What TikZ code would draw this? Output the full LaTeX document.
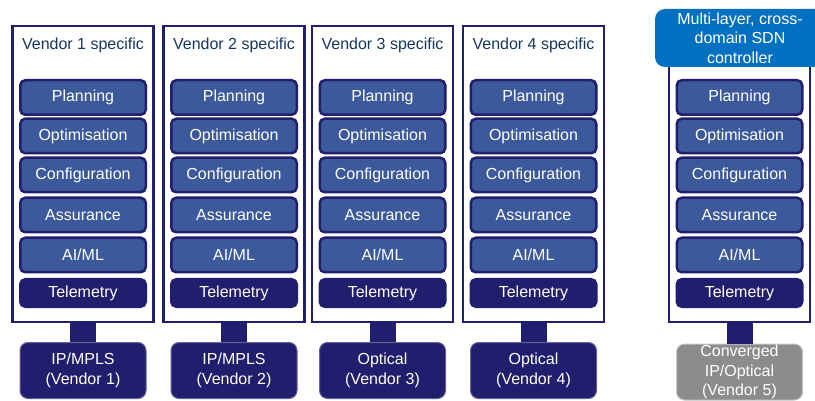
\documentclass[tikz,border=0pt]{standalone}
\usepackage{fontspec}
\setmainfont{Liberation Sans}
\definecolor{nvy}{RGB}{33,30,110}
\definecolor{midblue}{RGB}{60,89,155}
\definecolor{titleblue}{RGB}{23,55,94}
\definecolor{sdnblue}{RGB}{0,112,192}
\definecolor{devgrey}{RGB}{140,140,140}
\tikzset{
  x=1pt,y=-1pt,
  txt/.style={font=\fontsize{16pt}{19.5pt}\selectfont},
  vendorbox/.style={draw=nvy,line width=2.5pt,fill=white,minimum width=141pt,minimum height=296pt,inner sep=0pt},
  vendortitle/.style={txt,text=titleblue},
  funcbox/.style={txt,draw=nvy,line width=2.5pt,fill=midblue,rounded corners=5pt,minimum width=125.5pt,minimum height=34.5pt,inner sep=0pt,text=white},
  telebox/.style={funcbox,fill=nvy,minimum height=27.5pt},
  devbox/.style={txt,draw=nvy!70,line width=1pt,fill=nvy,rounded corners=8pt,minimum width=126pt,minimum height=56pt,inner sep=0pt,text=white,align=center},
  convbox/.style={devbox,draw=devgrey!50,fill=devgrey},
  ctrlbox/.style={txt,fill=sdnblue,rounded corners=10pt,minimum width=170pt,minimum height=58pt,inner sep=0pt,text=white,align=center},
  link/.style={draw=nvy,line width=26pt}
}
\begin{document}
\begin{tikzpicture}
\clip (0,0) rectangle (815,401);
\node[vendorbox] (box1) at (83,174) {};
\node[vendorbox] (box2) at (234,174) {};
\node[vendorbox] (box3) at (382.5,174) {};
\node[vendorbox] (box4) at (533.5,174) {};
\node[vendorbox] (box5) at (739.5,174) {};
\node[vendortitle] (title1) at (83,45) {Vendor 1 specific};
\node[vendortitle] (title2) at (234,45) {Vendor 2 specific};
\node[vendortitle] (title3) at (382.5,45) {Vendor 3 specific};
\node[vendortitle] (title4) at (533.5,45) {Vendor 4 specific};
\node[funcbox] (plan1) at (83,97.5) {Planning};
\node[funcbox] (opt1) at (83,136) {Optimisation};
\node[funcbox] (conf1) at (83,175) {Configuration};
\node[funcbox] (assu1) at (83,215) {Assurance};
\node[funcbox] (aiml1) at (83,255) {AI/ML};
\node[telebox] (tele1) at (83,293) {Telemetry};
\node[funcbox] (plan2) at (234,97.5) {Planning};
\node[funcbox] (opt2) at (234,136) {Optimisation};
\node[funcbox] (conf2) at (234,175) {Configuration};
\node[funcbox] (assu2) at (234,215) {Assurance};
\node[funcbox] (aiml2) at (234,255) {AI/ML};
\node[telebox] (tele2) at (234,293) {Telemetry};
\node[funcbox] (plan3) at (382.5,97.5) {Planning};
\node[funcbox] (opt3) at (382.5,136) {Optimisation};
\node[funcbox] (conf3) at (382.5,175) {Configuration};
\node[funcbox] (assu3) at (382.5,215) {Assurance};
\node[funcbox] (aiml3) at (382.5,255) {AI/ML};
\node[telebox] (tele3) at (382.5,293) {Telemetry};
\node[funcbox] (plan4) at (533.5,97.5) {Planning};
\node[funcbox] (opt4) at (533.5,136) {Optimisation};
\node[funcbox] (conf4) at (533.5,175) {Configuration};
\node[funcbox] (assu4) at (533.5,215) {Assurance};
\node[funcbox] (aiml4) at (533.5,255) {AI/ML};
\node[telebox] (tele4) at (533.5,293) {Telemetry};
\node[funcbox] (plan5) at (739.5,97.5) {Planning};
\node[funcbox] (opt5) at (739.5,136) {Optimisation};
\node[funcbox] (conf5) at (739.5,175) {Configuration};
\node[funcbox] (assu5) at (739.5,215) {Assurance};
\node[funcbox] (aiml5) at (739.5,255) {AI/ML};
\node[telebox] (tele5) at (739.5,293) {Telemetry};
\node[ctrlbox] (ctrl) at (740,38) {Multi-layer, cross-\\domain SDN\\controller};
\node[devbox] (dev1) at (83,370.5) {IP/MPLS\\(Vendor 1)};
\node[devbox] (dev2) at (234,370.5) {IP/MPLS\\(Vendor 2)};
\node[devbox] (dev3) at (382.5,370.5) {Optical\\(Vendor 3)};
\node[devbox] (dev4) at (533.5,370.5) {Optical\\(Vendor 4)};
\node[convbox] (dev5) at (739.5,372) {Converged\\IP/Optical\\(Vendor 5)};
\draw[link] (box1.south) -- (dev1.north);
\draw[link] (box2.south) -- (dev2.north);
\draw[link] (box3.south) -- (dev3.north);
\draw[link] (box4.south) -- (dev4.north);
\draw[link] (box5.south) -- (dev5.north);
\end{tikzpicture}
\end{document}
